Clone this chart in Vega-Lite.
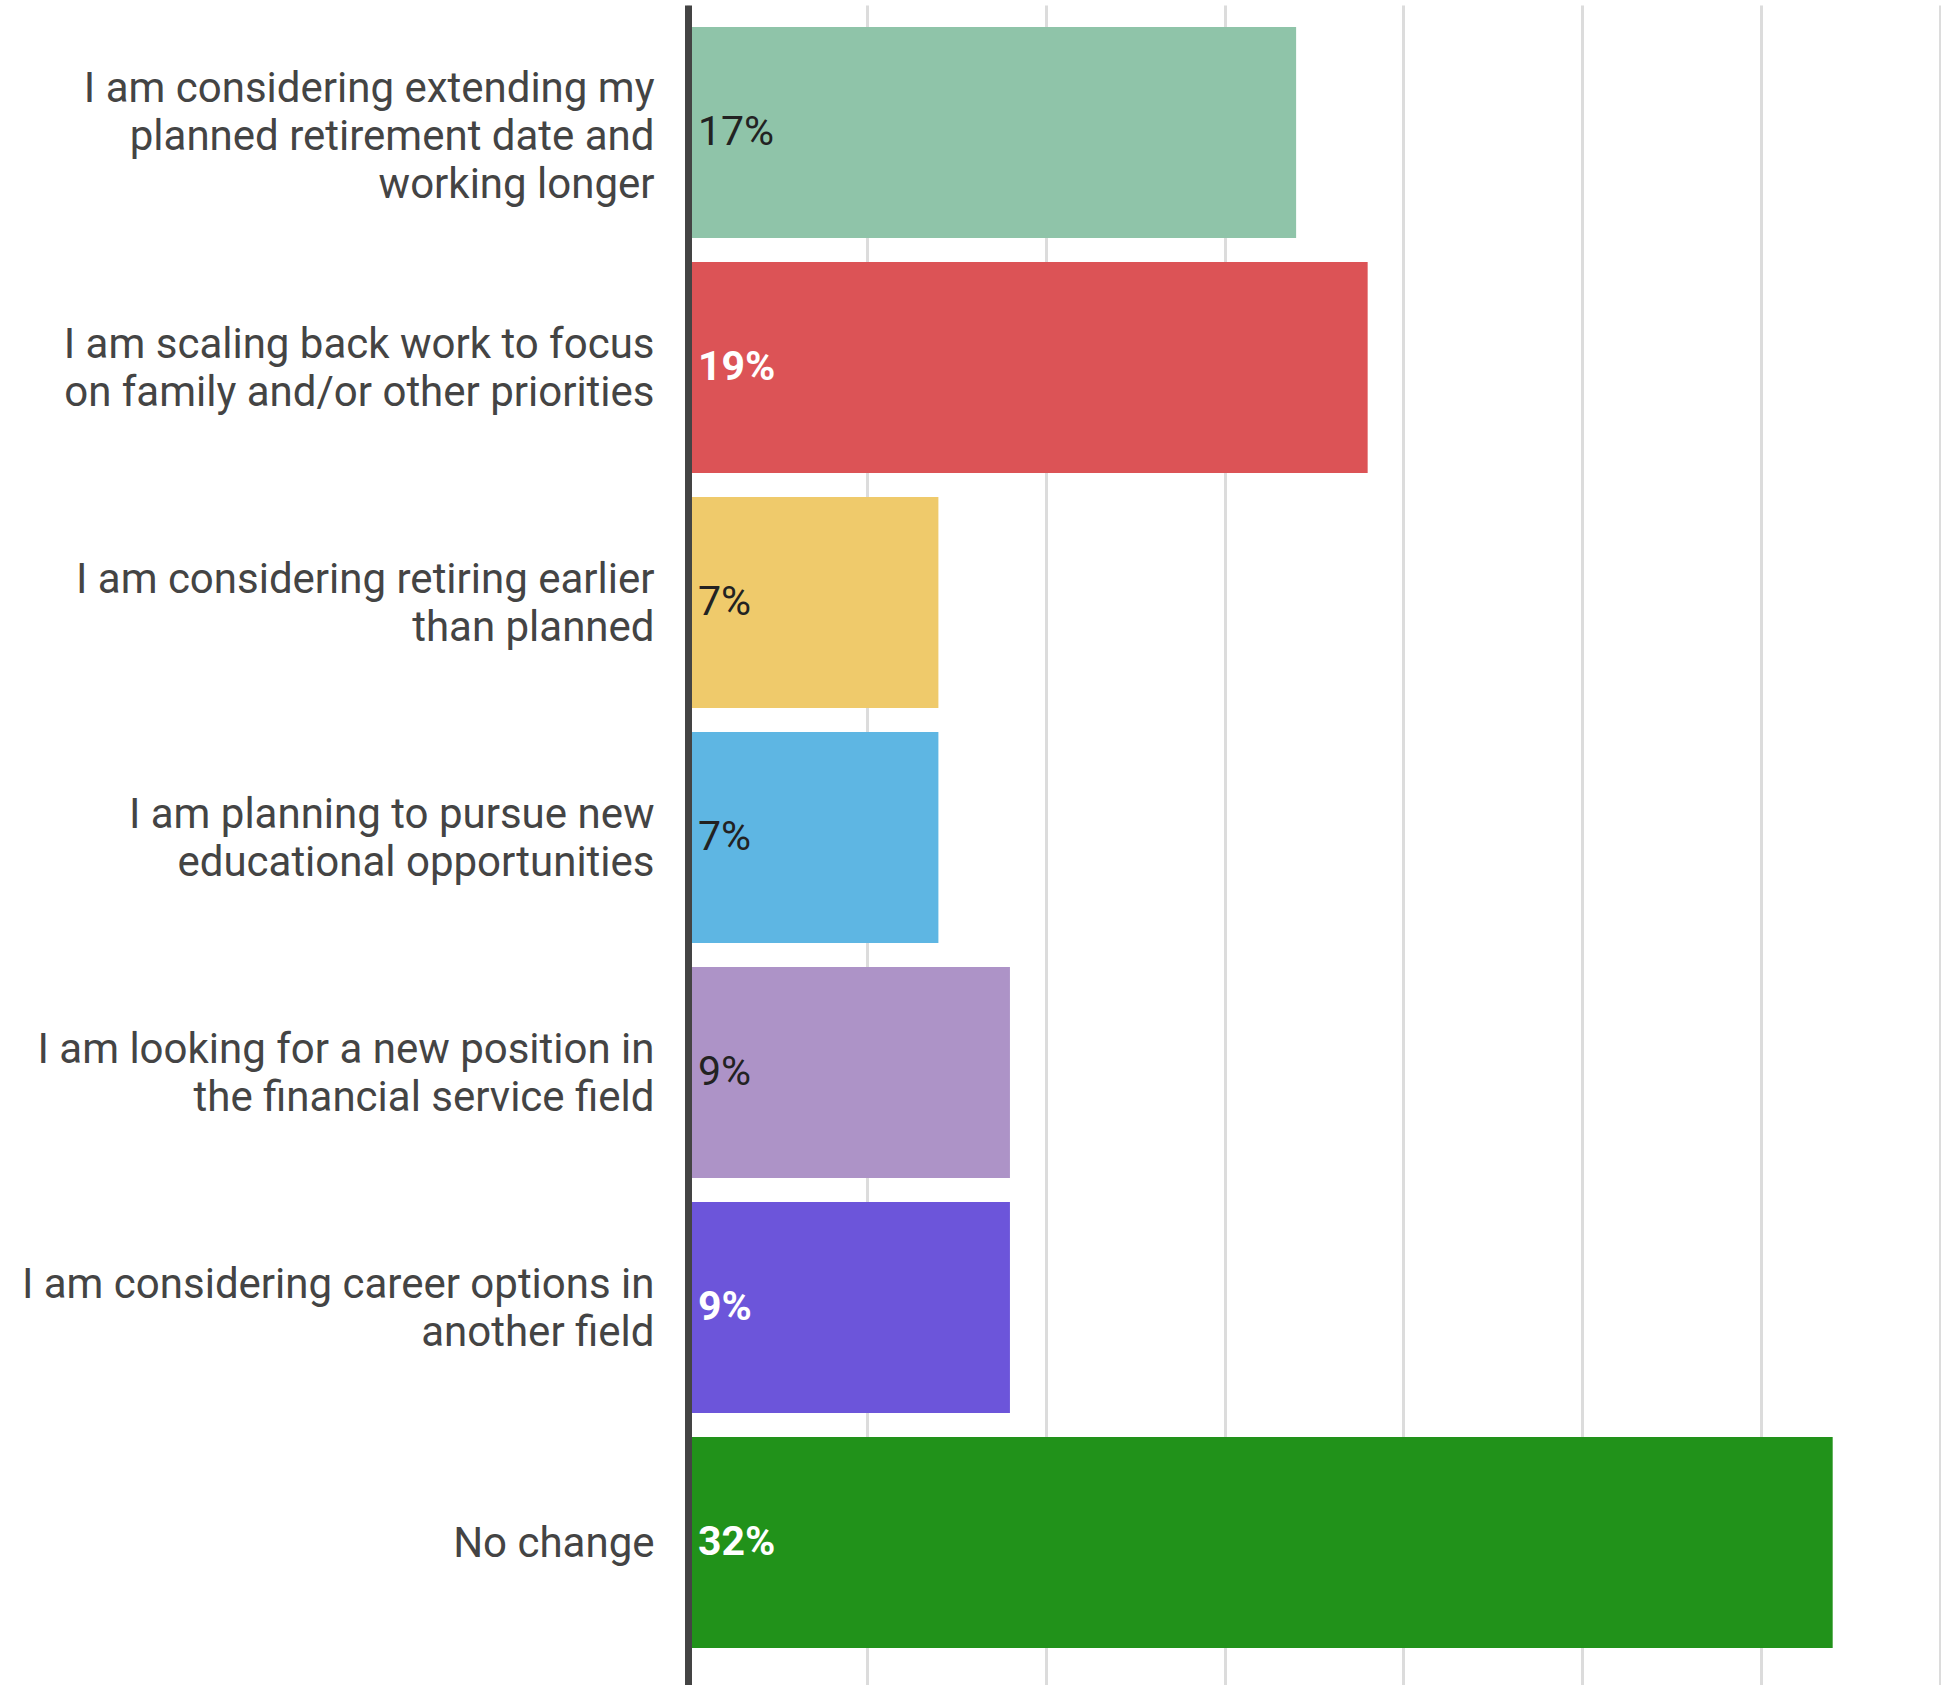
{
  "$schema": "https://vega.github.io/schema/vega-lite/v6.json",
  "autosize": {"type": "none"},
  "padding": {"left": 688, "top": 5, "right": 1, "bottom": 0},
  "width": 1252,
  "height": 1680,
  "background": "white",
  "config": {"view": {"stroke": null}},
  "data": {
    "values": [
      {"answer": "I am considering extending my|planned retirement date and|working longer", "pct": 0.17},
      {"answer": "I am scaling back work to focus|on family and/or other priorities", "pct": 0.19},
      {"answer": "I am considering retiring earlier|than planned", "pct": 0.07},
      {"answer": "I am planning to pursue new|educational opportunities", "pct": 0.07},
      {"answer": "I am looking for a new position in|the financial service field", "pct": 0.09},
      {"answer": "I am considering career options in|another field", "pct": 0.09},
      {"answer": "No change", "pct": 0.32}
    ]
  },
  "encoding": {
    "y": {
      "field": "answer",
      "type": "nominal",
      "sort": null,
      "scale": {"paddingInner": 0.102, "paddingOuter": 0.1255, "align": 0.373},
      "axis": {
        "title": null,
        "ticks": false,
        "grid": false,
        "domain": true,
        "domainColor": "#444444",
        "domainWidth": 7,
        "labelExpr": "split(datum.label, '|')",
        "labelFont": "Roboto",
        "labelFontSize": 42,
        "labelColor": "#444444",
        "labelLineHeight": 48,
        "labelPadding": 34,
        "labelLimit": 0,
        "labelAlign": "right",
        "labelBaseline": "middle",
        "labelOffset": {
          "condition": [
            {"test": "indexof(datum.value, 'working longer') >= 0", "value": -44},
            {"test": "datum.value == 'No change'", "value": 1}
          ],
          "value": -23
        },
        "zindex": 2
      }
    }
  },
  "layer": [
    {
      "mark": {"type": "bar"},
      "encoding": {
        "x": {
          "field": "pct",
          "type": "quantitative",
          "scale": {"domain": [0, 0.35], "nice": false, "zero": true},
          "axis": {
            "title": null,
            "labels": false,
            "ticks": false,
            "domain": false,
            "grid": true,
            "gridColor": "#dcdcdc",
            "gridWidth": 3,
            "values": [0, 0.05, 0.1, 0.15, 0.2, 0.25, 0.3, 0.35],
            "zindex": 0
          }
        },
        "color": {
          "field": "answer",
          "type": "nominal",
          "legend": null,
          "scale": {
            "domain": [
              "I am considering extending my|planned retirement date and|working longer",
              "I am scaling back work to focus|on family and/or other priorities",
              "I am considering retiring earlier|than planned",
              "I am planning to pursue new|educational opportunities",
              "I am looking for a new position in|the financial service field",
              "I am considering career options in|another field",
              "No change"
            ],
            "range": ["#8FC4A9", "#DC5356", "#EFCA6B", "#5EB6E3", "#AD93C7", "#6C55DA", "#21921A"]
          }
        }
      }
    },
    {
      "transform": [{"filter": "datum.pct != 0.19 && datum.pct != 0.32 && datum.answer != 'I am considering career options in|another field'"}],
      "mark": {"type": "text", "align": "left", "baseline": "middle", "dx": 10, "font": "Roboto", "fontSize": 41, "color": "#222222"},
      "encoding": {
        "x": {"datum": 0, "type": "quantitative"},
        "text": {"field": "pct", "type": "quantitative", "format": ".0%"}
      }
    },
    {
      "transform": [{"filter": "datum.pct == 0.19 || datum.pct == 0.32 || datum.answer == 'I am considering career options in|another field'"}],
      "mark": {"type": "text", "align": "left", "baseline": "middle", "dx": 10, "font": "Roboto", "fontSize": 41, "fontWeight": "bold", "color": "#ffffff"},
      "encoding": {
        "x": {"datum": 0, "type": "quantitative"},
        "text": {"field": "pct", "type": "quantitative", "format": ".0%"}
      }
    }
  ]
}
